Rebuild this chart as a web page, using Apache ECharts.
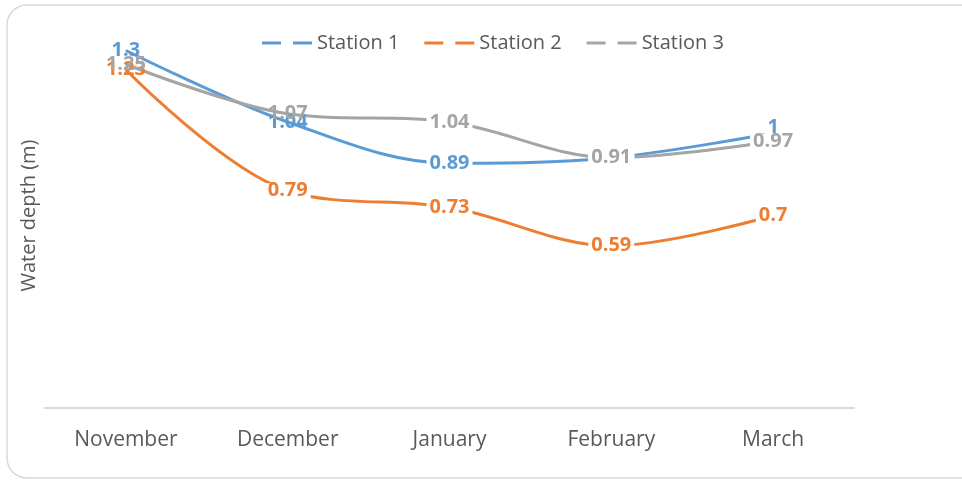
<!DOCTYPE html>
<html>
<head>
<meta charset="utf-8">
<script src="https://cdn.jsdelivr.net/npm/echarts@6/dist/echarts.min.js"></script>
<style>
  html, body { margin: 0; padding: 0; background: #fff; }
  #chart { width: 962px; height: 481px; }
</style>
</head>
<body>
<div id="chart"></div>
<script>
// data
var months = ['November', 'December', 'January', 'February', 'March'];
var station1 = [1.3, 1.04, 0.89, 0.91, 1];
var station2 = [1.23, 0.79, 0.73, 0.59, 0.7];
var station3 = [1.25, 1.07, 1.04, 0.91, 0.97];
var seriesNames = ['Station 1', 'Station 2', 'Station 3'];
var colors = ['#5B9BD5', '#ED7D31', '#A5A5A5'];

// labels that sit on top of each other get no white box (so both stay readable)
var crowded = [[0, 1], [0], [0, 1]];
// small nudges for labels that would otherwise be covered: [series, index, dx, dy]
var nudges = [[0, 4, 0, -6]];

var font = '"Open Sans", "Noto Sans", sans-serif';
var chart = echarts.init(document.getElementById('chart'));

function makeSeries(idx, data) {
  var color = colors[idx];
  var items = data.map(function (v, i) {
    var lab = {};
    if (crowded[idx].indexOf(i) < 0) {
      lab.backgroundColor = '#fff';
      lab.padding = [0, 3];
    }
    nudges.forEach(function (n) {
      if (n[0] === idx && n[1] === i) lab.offset = [n[2], n[3]];
    });
    return { value: v, label: lab };
  });
  return {
    name: seriesNames[idx],
    type: 'line',
    data: items,
    smooth: 0.35,
    symbol: 'circle',
    symbolSize: 1,
    itemStyle: { color: color },
    lineStyle: { color: color, width: 3 },
    label: {
      show: true,
      position: 'inside',
      color: color,
      fontFamily: font,
      fontWeight: 'bold',
      fontSize: 20,
      lineHeight: 15
    },
    emphasis: { disabled: true }
  };
}

var option = {
  animation: false,
  color: colors,
  graphic: [{
    type: 'rect',
    shape: { x: 7, y: 5, width: 975, height: 473, r: 20 },
    style: { fill: 'none', stroke: '#d9d9d9', lineWidth: 1.5 },
    silent: true
  }],
  legend: {
    left: 257,
    top: 28,
    itemWidth: 50,
    itemHeight: 3,
    itemGap: 25,
    icon: 'path://M0,0H19V3H0Z M31,0H50V3H31Z',
    textStyle: { color: '#595959', fontFamily: font, fontSize: 20 },
    data: seriesNames
  },
  grid: { left: 45, right: 108, top: 23, bottom: 73 },
  xAxis: {
    type: 'category',
    data: months,
    boundaryGap: true,
    axisLine: { lineStyle: { color: '#d9d9d9', width: 2 } },
    axisTick: { show: false },
    axisLabel: { color: '#595959', fontFamily: font, fontSize: 21, margin: 22 }
  },
  yAxis: {
    type: 'value',
    min: 0,
    max: 1.4,
    interval: 0.2,
    name: 'Water depth (m)',
    nameLocation: 'middle',
    nameRotate: 90,
    nameGap: 6,
    nameTextStyle: { color: '#595959', fontFamily: font, fontSize: 20 },
    axisLine: { show: false },
    axisTick: { show: false },
    axisLabel: { show: false },
    splitLine: { show: false }
  },
  series: [makeSeries(0, station1), makeSeries(1, station2), makeSeries(2, station3)]
};

chart.setOption(option);
</script>
</body>
</html>
